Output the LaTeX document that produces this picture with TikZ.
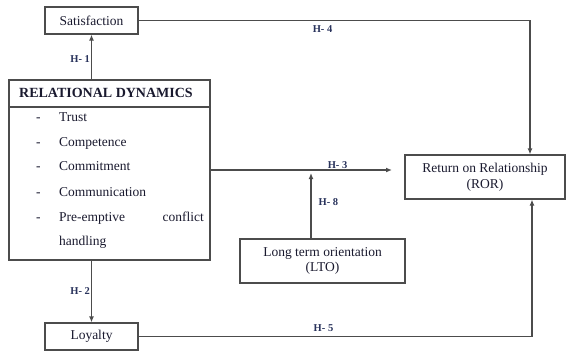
\documentclass[tikz,border=0pt]{standalone}
\usepackage{fontspec}
\setmainfont{Liberation Serif}
\usepackage{xcolor}
\usetikzlibrary{arrows.meta,positioning,calc}
\definecolor{hlab}{rgb}{0.16,0.2,0.36}
\definecolor{lin}{rgb}{0.3,0.3,0.3}
\definecolor{txt}{rgb}{0.1,0.1,0.18}

\begin{document}
\begin{tikzpicture}[x=1pt, y=-1pt,
  box/.style={rectangle, draw=lin, line width=1.2pt, align=center, text=txt,
    inner sep=0pt, font=\fontsize{13.5}{15.5}\selectfont},
  arrow/.style={-{Latex[length=6pt,width=5pt]}, draw=lin, line width=1.2pt},
  link/.style={draw=lin, line width=1.2pt},
  hyp/.style={font=\fontsize{10.5}{12}\selectfont\bfseries, text=hlab, inner sep=1pt},
  item/.style={anchor=base west, text=txt, font=\fontsize{13.5}{15}\selectfont, inner sep=0pt},
]
\useasboundingbox (0,0) rectangle (571,354);
\node[box, minimum width=93pt, minimum height=27pt] (sat) at (91.5,20.5) {Satisfaction};
\node[box, minimum width=201pt, minimum height=180pt] (rd) at (109.5,170) {};
\node[box, minimum width=93pt, minimum height=27pt] (loy) at (91.5,336.5) {Loyalty};
\node[box, minimum width=160pt, minimum height=44pt] (ror) at (485,177) {Return on Relationship\\(ROR)};
\node[box, minimum width=165pt, minimum height=44pt] (lto) at (322.5,261) {Long term orientation\\(LTO)};

% relational dynamics contents
\node[text=txt, font=\fontsize{14}{15}\selectfont\bfseries, inner sep=0pt] (rdhead) at (106,93) {RELATIONAL DYNAMICS};
\draw[link] (rd.west |- 0,107) -- (rd.east |- 0,107);
\foreach \txt/\yy [count=\i] in {Trust/121, Competence/146, Commitment/170, Communication/196, Pre-emptive/221} {
  \node[item] (dash\i) at (36,\yy) {-};
  \node[item] (it\i) at (59,\yy) {\txt};
}
\node[item, anchor=base east] (it5b) at (204,221) {conflict};
\node[item] (it6) at (59,245) {handling};

% connectors
\coordinate (h3end) at (392,170);
\coordinate (h8) at (311,173);
\coordinate (rup) at (530,0);
\coordinate (rdown) at (532,0);
\draw[arrow] (rd.north -| sat.south) -- node[hyp, left, pos=0.45] {H- 1} (sat.south);
\draw[arrow] (rd.south -| loy.north) -- node[hyp, left, pos=0.5] {H- 2} (loy.north);
\draw[arrow] (rd.east) -- node[hyp, above, pos=0.7] {H- 3} (h3end);
\draw[arrow] (h8 |- lto.north) -- node[hyp, right=6pt, pos=0.55] {H- 8} (h8);
\draw[arrow] (sat.east) -- node[hyp, below=3pt, pos=0.47] {H- 4} (sat.east -| rup) -- (rup |- ror.north);
\draw[arrow] (loy.east) -- node[hyp, above=3pt, pos=0.47] {H- 5} (loy.east -| rdown) -- (rdown |- ror.south);
\end{tikzpicture}
\end{document}
